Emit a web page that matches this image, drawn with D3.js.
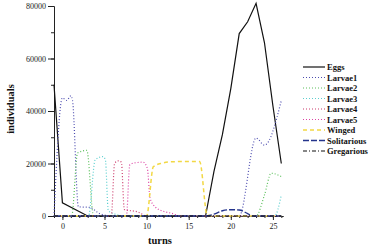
<!DOCTYPE html>
<html>
<head>
<meta charset="utf-8">
<script src="https://cdn.jsdelivr.net/npm/d3@7"></script>
<style>
  body { margin: 0; background: #fff; }
  svg { display: block; }
  .axis text { font-family: "Liberation Serif", serif; font-size: 8px; fill: #222; }
  .axis path, .axis line { stroke: #222; stroke-width: 1; }
  .title { font-family: "Liberation Serif", serif; font-weight: bold; font-size: 10.5px; fill: #111; }
  .legend text { font-family: "Liberation Serif", serif; font-weight: bold; font-size: 8.5px; fill: #111; }
</style>
</head>
<body>
<svg id="chart" width="373" height="250"></svg>
<script>
// [turn, individuals]
const eggs = [[-1, 50000], [0, 5000], [3, 0], [17, 0], [18, 17000], [19, 31000], [20, 48500],
  [21, 69500], [22, 74000], [23, 81000], [24, 66000], [25, 42000], [26, 20000]];
const larvae1 = [[-1, 0], [0, 45000], [0.5, 44000], [1, 45800], [1.2, 44000], [1.9, 3500],
  [3.2, 3300], [4.5, 800], [6, 0], [21, 0], [23, 29700], [24, 27000], [26, 44000]];
const larvae2 = [[-1, 0], [1.1, 0], [1.8, 24000], [2.9, 25000], [3.7, 0], [23, 0],
  [24, 8000], [24.8, 16300], [26, 15000]];
const larvae3 = [[-1, 0], [3.1, 0], [3.9, 21500], [4.8, 22600], [5.1, 21500], [5.45, 2000],
  [6.5, 500], [7.5, 0], [25.2, 0], [26, 8000]];
const larvae4 = [[-1, 0], [5.8, 0], [6.2, 20000], [6.6, 21000], [7, 20500], [7.35, 2500],
  [9, 1500], [10, 0], [26, 0]];
const larvae5 = [[-1, 0], [7.6, 0], [8, 19500], [8.5, 20200], [9.6, 20500], [10.1, 18000],
  [10.4, 7000], [11, 3500], [12, 1800], [13, 1000], [14, 0], [26, 0]];
const winged = [[-1, 0], [10, 0], [10.8, 18800], [11.8, 20100], [13.2, 20700], [16.3, 20800],
  [17.2, 300], [18, 0], [26, 0]];
const solitarious = [[-1, 0], [17, 0], [18, 700], [19, 2000], [20, 2400], [21, 2300],
  [22, 900], [22.6, 0], [26, 0]];
const gregarious = [[-1, 0], [26, 0]];

const seriesNames = ['Eggs', 'Larvae1', 'Larvae2', 'Larvae3', 'Larvae4', 'Larvae5',
  'Winged', 'Solitarious', 'Gregarious'];
const xTicks = [0, 5, 10, 15, 20, 25];
const yTicks = [0, 20000, 40000, 60000, 80000];

const styles = [
  {color: '#111111', dash: null, w: 1.2, curve: d3.curveLinear},
  {color: '#4d4db0', dash: '1,2', w: 1.2, curve: d3.curveMonotoneX},
  {color: '#5cc05c', dash: '1,2', w: 1.2, curve: d3.curveMonotoneX},
  {color: '#5ccfcf', dash: '1,2', w: 1.2, curve: d3.curveMonotoneX},
  {color: '#cc3c6c', dash: '1,2', w: 1.2, curve: d3.curveMonotoneX},
  {color: '#dd44a4', dash: '1,2', w: 1.2, curve: d3.curveMonotoneX},
  {color: '#f2d844', dash: '4,3', w: 1.5, curve: d3.curveMonotoneX},
  {color: '#24348c', dash: '6,2', w: 1.4, curve: d3.curveMonotoneX},
  {color: '#111111', dash: '4,2,1,2', w: 1.1, curve: d3.curveLinear}
];

const data = [eggs, larvae1, larvae2, larvae3, larvae4, larvae5, winged, solitarious, gregarious];

const svg = d3.select('#chart');

const x = d3.scaleLinear().domain([-1, 26.2]).range([54, 283]);
const y = d3.scaleLinear().domain([0, 80000]).range([216, 6]);

// minor ticks first
svg.append('g')
  .attr('class', 'axis')
  .attr('transform', 'translate(0,216)')
  .call(d3.axisBottom(x).tickValues(d3.range(-1, 27)).tickSize(2).tickSizeOuter(0).tickFormat(''));

svg.append('g')
  .attr('class', 'axis')
  .attr('transform', 'translate(54,0)')
  .call(d3.axisLeft(y).tickValues(d3.range(0, 80001, 10000)).tickSize(3).tickSizeOuter(0).tickFormat(''));

svg.append('g')
  .attr('class', 'axis')
  .attr('transform', 'translate(0,216)')
  .call(d3.axisBottom(x).tickValues(xTicks).tickSize(4).tickSizeOuter(0).tickPadding(3).tickFormat(d3.format('d')));

svg.append('g')
  .attr('class', 'axis')
  .attr('transform', 'translate(54,0)')
  .call(d3.axisLeft(y).tickValues(yTicks).tickSize(6).tickSizeOuter(0).tickPadding(2).tickFormat(d3.format('d')));

// lines
data.forEach((pts, i) => {
  const s = styles[i];
  const line = d3.line()
    .x(d => x(d[0]))
    .y(d => y(d[1]))
    .curve(s.curve);
  svg.append('path')
    .datum(pts)
    .attr('fill', 'none')
    .attr('stroke', s.color)
    .attr('stroke-width', s.w)
    .attr('stroke-dasharray', s.dash)
    .attr('d', line);
});

// axis titles
svg.append('text')
  .attr('class', 'title')
  .attr('x', 160)
  .attr('y', 244)
  .attr('text-anchor', 'middle')
  .text('turns');

svg.append('text')
  .attr('class', 'title')
  .attr('transform', 'translate(14,109) rotate(-90)')
  .attr('text-anchor', 'middle')
  .text('individuals');

// legend
const legend = svg.append('g').attr('class', 'legend');
seriesNames.forEach((name, i) => {
  const s = styles[i];
  const ly = 67 + i * 10.5;
  legend.append('line')
    .attr('x1', 303).attr('x2', 325)
    .attr('y1', ly).attr('y2', ly)
    .attr('stroke', s.color)
    .attr('stroke-width', s.w)
    .attr('stroke-dasharray', s.dash);
  legend.append('text')
    .attr('x', 327)
    .attr('y', ly + 3)
    .text(name);
});
</script>
</body>
</html>
